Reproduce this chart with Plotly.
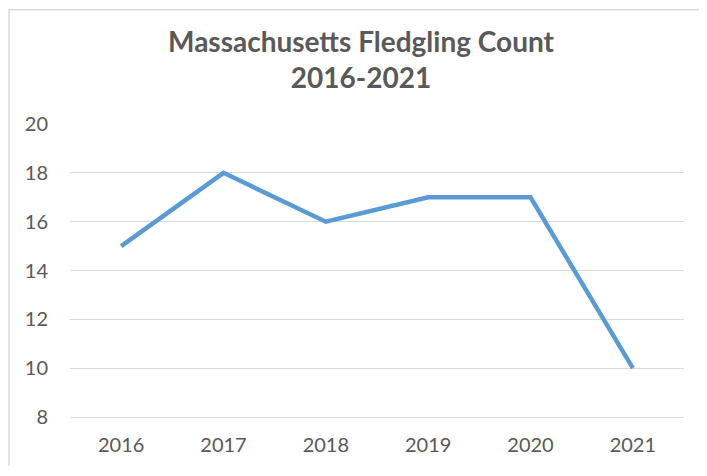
import plotly.graph_objects as go

years = ["2016", "2017", "2018", "2019", "2020", "2021"]
counts = [15, 18, 16, 17, 17, 10]
y_ticks = [8, 10, 12, 14, 16, 18, 20]

# page has an 8px body margin on every side; figure fills the remaining area
W, H = 691, 460
L, R, T, B = 62, 15, 116, 49
pw, ph = W - L - R, H - T - B

fig = go.Figure()
fig.add_trace(go.Scatter(
    x=years, y=counts, mode="lines",
    line=dict(color="#5B9BD5", width=4.5),
    hoverinfo="x+y",
))

# chart-area border: only the left and top edges fall inside the window
bx0 = (1 - L) / pw
bx1 = (W - L) / pw
by_top = (H - B - 1) / ph
by_bot = -B / ph
border_path = f"M {bx0},{by_bot} L {bx0},{by_top} L {bx1},{by_top}"

font_family = "Lato, 'Open Sans', sans-serif"
fig.update_layout(
    width=W, height=H,
    margin=dict(l=L, r=R, t=T, b=B),
    paper_bgcolor="white", plot_bgcolor="white",
    showlegend=False,
    title=dict(
        text="<b>Massachusetts Fledgling Count<br>2016-2021</b>",
        x=353 / W, xanchor="center",
        y=1 - 44 / H, yanchor="middle", yref="container",
        font=dict(family=font_family, size=28, color="#595959"),
    ),
    xaxis=dict(
        type="category", range=[-0.5, 5.5],
        showgrid=False, showline=True, linecolor="#D9D9D9", linewidth=1,
        ticks="", ticklabelstandoff=10,
        tickfont=dict(family=font_family, size=20, color="#595959"),
        fixedrange=True,
    ),
    yaxis=dict(
        range=[8, 20], tickvals=y_ticks,
        showgrid=True, gridcolor="#D9D9D9", gridwidth=1,
        zeroline=False, showline=False, ticks="",
        ticklabelstandoff=21,
        tickfont=dict(family=font_family, size=20, color="#595959"),
        fixedrange=True,
    ),
    shapes=[dict(
        type="path", xref="paper", yref="paper", path=border_path,
        line=dict(color="#D9D9D9", width=1.5), layer="below",
    )],
)

fig.write_html("out.html")
